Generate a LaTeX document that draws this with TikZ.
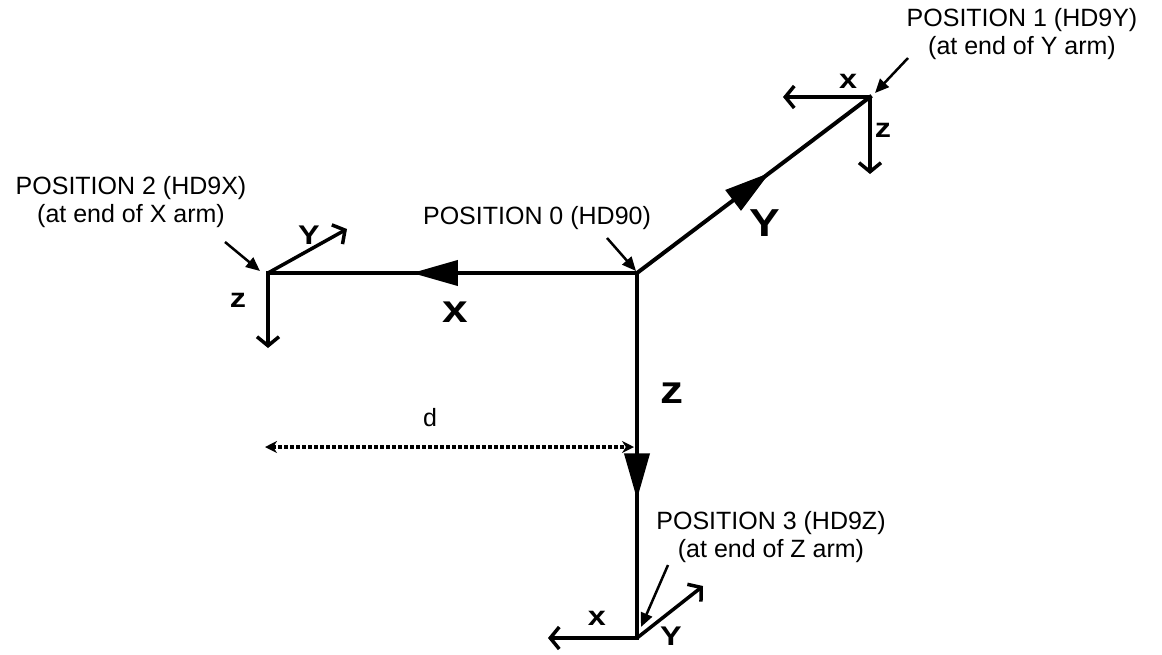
\documentclass[tikz,border=0pt]{standalone}
\usepackage{fontspec}
\setmainfont{Liberation Sans}
\usetikzlibrary{arrows.meta,decorations.markings}
\newcommand{\biglbl}[1]{\scalebox{1.18}[1]{\fontsize{39}{39}\selectfont\bfseries #1}}
\newcommand{\smalllbl}[1]{\scalebox{1.2}[1]{\fontsize{27}{27}\selectfont\bfseries #1}}
\begin{document}
\begin{tikzpicture}[x=1pt,y=-1pt,
  arm/.style={line width=4pt,line cap=rect},
  midarrow/.style={postaction={decorate},decoration={markings,
     mark=at position #1 with {\arrow{Triangle[length=46pt,width=25pt]}}}},
  axisarrow/.style={line width=3.5pt,-{Straight Barb[length=9pt,width=22pt]}},
  pointer/.style={line width=2.5pt,-{Triangle[length=14pt,width=12pt]}},
  dist/.style={line width=3.5pt,dash pattern=on 4pt off 2pt,{Stealth[length=12pt,width=12pt]}-{Stealth[length=12pt,width=12pt]}},
  txt/.style={font=\fontsize{25}{28}\selectfont,align=center,inner sep=0pt},
  lbl/.style={inner sep=0pt}
]
\useasboundingbox (0,0) rectangle (1162,654);
% frame origins
\coordinate (O) at (637,273);
\coordinate (P1) at (870,97);
\coordinate (P2) at (268,273);
\coordinate (P3) at (637,638);
% arms
\draw[arm,midarrow=0.61] (O) -- (P2);
\draw[arm,midarrow=0.57] (O) -- (P1);
\draw[arm,midarrow=0.62] (O) -- (P3);
% arm labels
\node[lbl] (lx) at (455,312) {\biglbl{x}};
\node[lbl] (ly) at (765,223) {\biglbl{Y}};
\node[lbl] (lz) at (672,393) {\biglbl{z}};
% frame at position 1
\coordinate (P1x) at (783,97);
\coordinate (P1z) at (870,174);
\draw[axisarrow] (P1) -- (P1x);
\draw[axisarrow] (P1) -- (P1z);
\node[lbl] (p1xl) at (848,81) {\smalllbl{x}};
\node[lbl] (p1zl) at (883,130) {\smalllbl{z}};
% frame at position 2
\coordinate (P2y) at (347,229);
\coordinate (P2z) at (268,348);
\draw[axisarrow] (P2) -- (P2y);
\draw[axisarrow] (P2) -- (P2z);
\node[lbl] (p2yl) at (309,235) {\smalllbl{Y}};
\node[lbl] (p2zl) at (238,300) {\smalllbl{z}};
% frame at position 3
\coordinate (P3x) at (548,638);
\coordinate (P3y) at (703,586);
\draw[axisarrow] (P3) -- (P3x);
\draw[axisarrow] (P3) -- (P3y);
\node[lbl] (p3xl) at (597,618) {\smalllbl{x}};
\node[lbl] (p3yl) at (671,636) {\smalllbl{Y}};
% texts
\node[txt] (t1) at (1022,34) {POSITION 1 (HD9Y)\\(at end of Y arm)};
\node[txt] (t2) at (131,202) {POSITION 2 (HD9X)\\(at end of X arm)};
\node[txt] (t0) at (537,218) {POSITION 0 (HD90)};
\node[txt] (t3) at (771,537) {POSITION 3 (HD9Z)\\(at end of Z arm)};
% pointers
\coordinate (a1s) at (908,58);  \coordinate (a1e) at (875,93);
\coordinate (a2s) at (225,242); \coordinate (a2e) at (260,271);
\coordinate (a0s) at (607,238); \coordinate (a0e) at (636,271);
\coordinate (a3s) at (668,565); \coordinate (a3e) at (641,627);
\draw[pointer] (a1s) -- (a1e);
\draw[pointer] (a2s) -- (a2e);
\draw[pointer] (a0s) -- (a0e);
\draw[pointer] (a3s) -- (a3e);
% distance d
\coordinate (dl) at (265,447);
\coordinate (dr) at (634,447);
\draw[dist] (dl) -- (dr);
\node[txt] (dlab) at (430,418) {d};
\end{tikzpicture}
\end{document}
